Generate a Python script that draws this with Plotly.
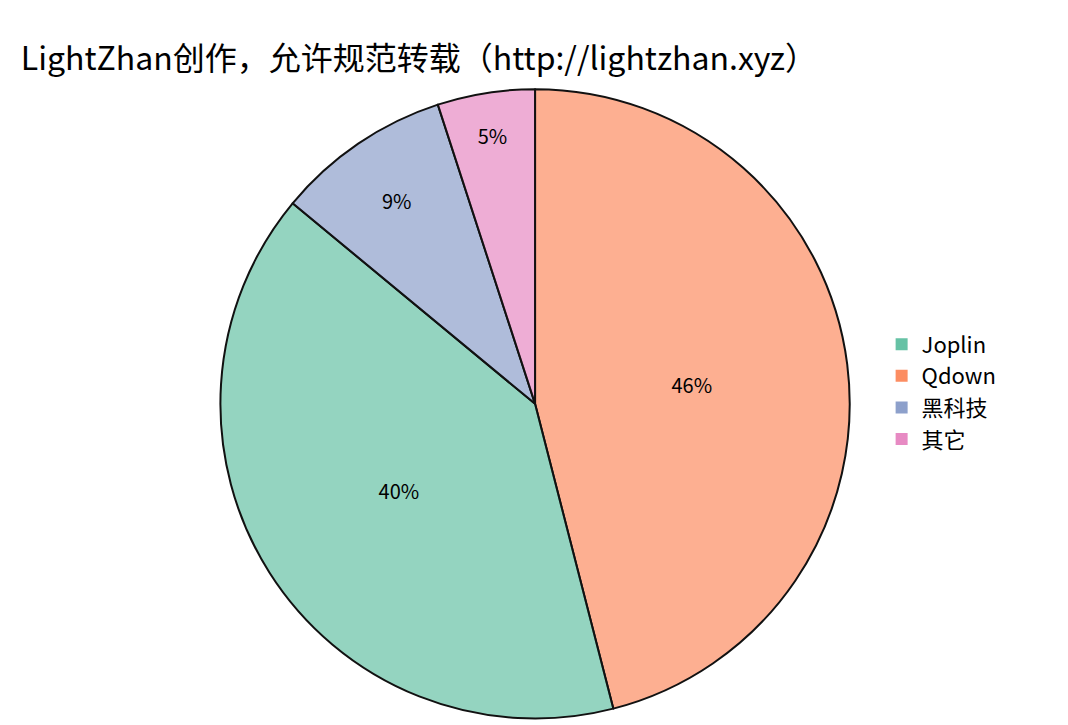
import plotly.graph_objects as go

labels = ["Qdown", "Joplin", "黑科技", "其它"]
values = [46, 40, 9, 5]
colors = {"Joplin": "102,194,165", "Qdown": "252,141,98", "黑科技": "141,160,203", "其它": "231,138,195"}
legend_order = ["Joplin", "Qdown", "黑科技", "其它"]

fig = go.Figure()
fig.add_trace(go.Pie(
    labels=labels, values=values, sort=False, direction="clockwise", rotation=0,
    marker=dict(colors=[f"rgba({colors[l]},0.7)" for l in labels], line=dict(color="#111", width=2)),
    textinfo="percent", texttemplate="%{percent:.0%}", textposition="inside",
    insidetextorientation="horizontal",
    textfont=dict(size=20, color="black"), showlegend=False,
    domain=dict(x=[0.19, 0.797], y=[0.02, 0.888]),
))
for l in legend_order:
    fig.add_trace(go.Scatter(x=[None], y=[None], mode="markers", name=l,
                             marker=dict(symbol="square", size=30, color=f"rgb({colors[l]})")))
fig.update_layout(
    width=1068, height=725, paper_bgcolor="white", plot_bgcolor="white",
    margin=dict(l=0, r=0, t=0, b=0),
    font=dict(family="Noto Sans CJK SC", color="black"),
    title=dict(text="LightZhan创作，允许规范转载（http://lightzhan.xyz）", x=0.012, y=0.93,
               xanchor="left", yanchor="middle", font=dict(size=32)),
    xaxis=dict(visible=False), yaxis=dict(visible=False),
    legend=dict(x=0.818, y=0.565, xanchor="left", yanchor="top", font=dict(size=22),
                tracegroupgap=0, itemsizing="constant"),
)
fig.write_html("out.html")
